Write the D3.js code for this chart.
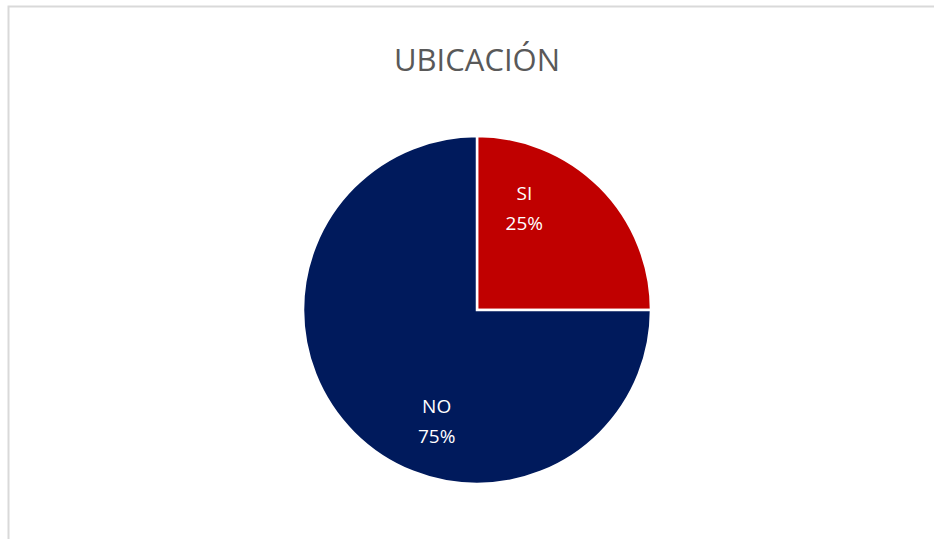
<!DOCTYPE html>
<meta charset="utf-8">
<style>
  body { margin: 0; background: #fff; }
  .title { font: 31px "Open Sans", sans-serif; fill: #595959; text-anchor: middle; }
  .lbl { font: 19px "Open Sans", sans-serif; fill: #fff; text-anchor: middle; }
</style>
<body>
<svg width="934" height="539"></svg>
<script src="https://d3js.org/d3.v7.min.js"></script>
<script>
var categories = ["SI", "NO"];
var values = [25, 75];
var colors = ["#C00000", "#001A5C"];

var svg = d3.select("svg");
var cx = 477, cy = 310, radius = 174;

// chart area border (runs off the right and bottom edges)
svg.append("rect")
    .attr("x", 8.5).attr("y", 6.5)
    .attr("width", 1000).attr("height", 1000)
    .attr("fill", "none")
    .attr("stroke", "#d9d9d9")
    .attr("stroke-width", 2);

svg.append("text")
    .attr("class", "title")
    .attr("x", cx).attr("y", 71)
    .text("UBICACIÓN");

var data = categories.map(function(c, i) { return {name: c, value: values[i]}; });

var pie = d3.pie().sort(null).value(function(d) { return d.value; });
var arc = d3.arc().innerRadius(0).outerRadius(radius);

var g = svg.append("g").attr("transform", "translate(" + cx + "," + cy + ")");

var arcs = pie(data);

g.selectAll("path")
    .data(arcs)
  .enter().append("path")
    .attr("d", arc)
    .attr("fill", function(d, i) { return colors[i]; })
    .attr("stroke", "#fff")
    .attr("stroke-width", 2.5)
    .attr("stroke-linejoin", "miter");

// label placement, roughly where excel put them
var labelPos = [{r: 112, a: 25}, {r: 118, a: 200}];

var lbl = g.selectAll(".lblg")
    .data(arcs)
  .enter().append("g")
    .attr("transform", function(d, i) {
      var a = labelPos[i].a * Math.PI / 180, r = labelPos[i].r;
      return "translate(" + (r * Math.sin(a)) + "," + (-r * Math.cos(a)) + ")";
    });

lbl.append("text")
    .attr("class", "lbl")
    .attr("y", -8)
    .text(function(d) { return d.data.name; });

lbl.append("text")
    .attr("class", "lbl")
    .attr("y", 22)
    .text(function(d) { return Math.round(d.data.value) + "%"; });
</script>
</body>
